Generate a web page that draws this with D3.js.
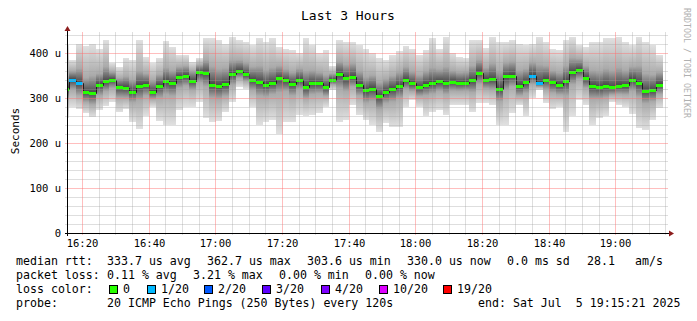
<!DOCTYPE html>
<html><head><meta charset="utf-8">
<script src="https://cdn.jsdelivr.net/npm/d3@7"></script>
<style>
html,body{margin:0;padding:0;background:#fff;}
svg{display:block;}
text{font-family:"DejaVu Sans Mono",monospace;fill:#000;}
</style></head><body>
<svg id="c" width="697" height="321"></svg>
<script>
// ---------------- data ----------------
const title = "Last 3 Hours";
const startTime = "2025-07-05 16:15:21";
const endTime   = "2025-07-05 19:15:21";
const firstStep = "2025-07-05 16:14:00";   // start of first 120 s step
const stepSeconds = 120;
const yTicks = [0, 100, 200, 300, 400];
const yTickLabels = ["0", "100 u", "200 u", "300 u", "400 u"];
const xTickLabels = ["16:20","16:40","17:00","17:20","17:40","18:00","18:20","18:40","19:00"];

// median rtt per 120 s step (microseconds)
const median = [321,341,333,313,311,330,338,341,324,323,314,327,330,314,327,337,334,347,350,338,
  358,356,330,327,332,354,361,353,341,336,330,334,344,340,332,340,324,333,333,324,
  341,353,344,347,329,318,321,304,314,321,327,341,333,324,330,334,337,334,336,334,
  334,339,356,341,342,321,348,350,327,335,350,334,341,336,330,338,357,363,344,327,
  324,327,324,327,328,341,333,316,318,330];
// fastest ping per step
const pingMin = [255,279,275,266,257,273,283,292,268,276,246,231,259,281,249,240,240,273,281,281,
  292,255,246,249,270,292,325,321,281,240,246,251,219,246,246,262,259,262,266,281,
  318,247,251,284,262,252,240,225,244,236,236,281,296,281,259,270,273,262,284,284,
  284,268,288,288,284,240,241,266,284,259,299,318,288,276,281,225,259,296,284,240,
  255,259,292,284,281,264,233,229,251,277];
// slowest ping per step
const pingMax = [418,385,419,416,421,410,429,377,370,388,384,428,392,377,388,427,414,396,396,379,
  390,433,433,429,421,436,429,425,418,434,424,433,414,410,407,399,433,418,401,407,
  372,429,425,425,418,410,399,388,384,396,404,416,410,396,407,433,410,436,399,392,
  388,429,429,412,436,424,425,429,421,418,421,436,425,410,407,429,436,418,414,425,
  425,433,433,436,424,418,436,425,418,396];
// lower / upper edge of the dense core of the smoke
const coreLo = [295,318,305,290,285,305,315,322,300,300,290,295,305,298,300,308,305,322,328,318,
  335,325,300,298,305,330,345,338,318,305,302,308,312,315,305,318,298,308,310,305,
  330,322,315,325,305,290,292,275,288,292,300,320,315,305,305,310,315,308,315,315,
  315,312,330,320,318,292,318,325,305,310,330,325,318,312,308,305,330,342,322,298,
  298,300,308,308,308,315,302,288,292,308];
const coreHi = [350,360,365,345,350,355,370,358,345,348,340,360,355,340,352,368,362,370,372,360,
  375,385,370,365,368,385,385,380,370,372,362,368,372,365,358,365,360,362,358,352,
  355,382,375,378,360,348,350,335,342,350,358,370,360,352,360,368,365,370,360,358,
  358,372,385,368,378,360,380,382,362,365,380,375,372,362,358,372,390,388,372,362,
  360,365,362,368,362,370,372,355,352,358];
// packet loss per step (%)
const lossPct = [0,3.21,2.5,0,0,0,0,0,0,0,0,0,0,0,0,0,0,0,0,0,
  0,0,0,0,0,0,0,0,0,0,0,0,0,0,0,0,0,0,0,0,
  0,0,0,0,0,0,0,0,0,0,0,0,0,0,0,0,0,0,0,0,
  0,0,0,0,0,0,0,0,0,0,2.5,1.8,0,0,0,0,0,0,0,0,
  0,0,0,0,0,0,0,0,0,0];

const lossLabels = ["0","1/20","2/20","3/20","4/20","10/20","19/20"];
const lossLimits = [0, 5, 10, 15, 20, 50, 95];
const lossColors = ["#26ff00","#00b8ff","#0059ff","#5e00ff","#7e00ff","#dd00ff","#ff0000"];

const legendRtt = [["median rtt:",16],["333.7 us avg",107],["362.7 us max",207],["303.6 us min",307],
  ["330.0 us now",407],["0.0 ms sd",507],["28.1",587],["am/s",635]];
const legendLoss = [["packet loss:",16],["0.11 % avg",107],["3.21 % max",193],["0.00 % min",279],["0.00 % now",365]];
const legendProbe = [["probe:",16],["20 ICMP Echo Pings (250 Bytes) every 120s",107],["end: Sat Jul  5 19:15:21 2025",478]];
const lossBoxX = [109,147,204,262,321,379,443];

// ---------------- drawing ----------------
const parse = d3.timeParse("%Y-%m-%d %H:%M:%S");
const t0 = parse(startTime), t1 = parse(endTime), s0 = parse(firstStep);
const svg = d3.select("#c");
const L = 67, R = 667, T = 32, B = 233;
const x = d3.scaleTime().domain([t0, t1]).range([L, R]);
const y = d3.scaleLinear().domain([0, 446.7]).range([B, T]);
const px = v => Math.round(v);
const gx = v => Math.floor(v);

const steps = median.map((m, i) => {
  const a = new Date(s0.getTime() + i * stepSeconds * 1000);
  const b = new Date(a.getTime() + stepSeconds * 1000);
  return {a, b, med: m, lo: pingMin[i], hi: pingMax[i], cl: coreLo[i], ch: coreHi[i], loss: lossPct[i]};
});

svg.append("rect").attr("width",697).attr("height",321).attr("fill","#fff");

const defs = svg.append("defs");
defs.append("clipPath").attr("id","plot").append("rect")
  .attr("x",L).attr("y",T).attr("width",R-L+1).attr("height",B-T);

// smoke
const plot = svg.append("g").attr("clip-path","url(#plot)");
steps.forEach((s, i) => {
  const yTop = y(s.hi), yBot = y(s.lo), h = yBot - yTop;
  const off = v => ((y(v) - yTop) / h * 100).toFixed(2) + "%";
  const g = defs.append("linearGradient").attr("id","sm"+i)
    .attr("x1",0).attr("y1",0).attr("x2",0).attr("y2",1);
  [[0,"#e0e0e0"],[off(s.ch),"#aaaaaa"],[off(s.med),"#474747"],[off(s.cl),"#aaaaaa"],["100%","#e0e0e0"]]
    .forEach(([o,c]) => g.append("stop").attr("offset",o).attr("stop-color",c));
});
plot.selectAll(".smoke").data(steps).join("rect")
  .attr("shape-rendering","crispEdges")
  .attr("x", d => px(x(d.a))).attr("width", d => px(x(d.b)) - px(x(d.a)))
  .attr("y", d => px(y(d.hi))).attr("height", d => px(y(d.lo)) - px(y(d.hi)))
  .attr("fill", (d, i) => `url(#sm${i})`);

// median step line
const line = d3.line().curve(d3.curveStepAfter).x(d => d[0]).y(d => d[1]);
const pts = steps.map(s => [px(x(s.a)) + 0.5, px(y(s.med)) + 0.5]);
pts.push([px(x(steps[steps.length-1].b)), px(y(median[median.length-1])) + 0.5]);
plot.append("path").attr("d", line(pts)).attr("fill","none").attr("stroke","#1e1e1e").attr("stroke-width",1);

function lossColor(p) {
  if (p <= 0) return lossColors[0];
  for (let k = 1; k < lossLimits.length; k++) if (p <= lossLimits[k]) return lossColors[k];
  return lossColors[lossColors.length - 1];
}
plot.selectAll(".med").data(steps).join("rect")
  .attr("shape-rendering","crispEdges")
  .attr("x", d => px(x(d.a))).attr("width", d => px(x(d.b)) - px(x(d.a)))
  .attr("y", d => px(y(d.med)) - 1).attr("height", 3)
  .attr("fill", d => lossColor(d.loss));

// grid (drawn over the data, semi transparent like rrdtool)
const tickMs = 5 * 60 * 1000;
const firstTick = Math.ceil(t0.getTime() / tickMs) * tickMs;
const gridT = d3.range(firstTick, t1.getTime(), tickMs).map(v => new Date(v));
const isMajor = d => d.getMinutes() % 20 === 0;
const grid = svg.append("g").attr("shape-rendering","crispEdges");
grid.selectAll(".vx").data(gridT.filter(d => !isMajor(d))).join("line")
  .attr("x1", d => gx(x(d)) + 0.5).attr("x2", d => gx(x(d)) + 0.5)
  .attr("y1", T).attr("y2", B + 2).attr("stroke", "rgba(160,160,160,0.35)");
const minorY = d3.range(20, 446, 20).filter(v => v % 100 !== 0);
grid.selectAll(".hy").data(minorY).join("line")
  .attr("x1", L - 2).attr("x2", R + 1)
  .attr("y1", d => px(y(d)) + 0.5).attr("y2", d => px(y(d)) + 0.5)
  .attr("stroke", "rgba(160,160,160,0.35)");
const majorX = gridT.filter(isMajor);
grid.selectAll(".mx").data(majorX).join("line")
  .attr("x1", d => gx(x(d)) + 0.5).attr("x2", d => gx(x(d)) + 0.5)
  .attr("y1", T).attr("y2", B + 2).attr("stroke", "rgba(255,110,110,0.45)");
grid.selectAll(".my").data([100,200,300,400]).join("line")
  .attr("x1", L - 2).attr("x2", R + 1)
  .attr("y1", d => px(y(d)) + 0.5).attr("y2", d => px(y(d)) + 0.5)
  .attr("stroke", "rgba(255,110,110,0.45)");

// axes
const ax = svg.append("g").attr("shape-rendering","crispEdges");
ax.append("line").attr("x1", L - 2).attr("x2", R + 3).attr("y1", B + 0.5).attr("y2", B + 0.5).attr("stroke","#000");
ax.append("line").attr("x1", L + 0.5).attr("x2", L + 0.5).attr("y1", B + 3).attr("y2", T - 2).attr("stroke","#000");
svg.append("path").attr("d", `M${R+2},${B-2.5} L${R+7},${B+0.5} L${R+2},${B+3.5} Z`).attr("fill","#8c1c1c");
svg.append("path").attr("d", `M${L-2.5},${T-1} L${L+0.5},${T-6} L${L+3.5},${T-1} Z`).attr("fill","#8c1c1c");

// tick labels
svg.append("g").selectAll("text").data(majorX).join("text")
  .attr("x", d => gx(x(d)) + 0.5).attr("y", 246.5).attr("text-anchor","middle")
  .attr("font-size", 10.5).text((d, i) => xTickLabels[i]);
svg.append("g").selectAll("text").data(yTicks).join("text")
  .attr("x", 61).attr("y", d => y(d) + 3.5).attr("text-anchor","end")
  .attr("font-size", 10.5).text((d, i) => yTickLabels[i]);

// titles
svg.append("text").attr("x", 348).attr("y", 20).attr("text-anchor","middle").attr("font-size", 13).text(title);
svg.append("text").attr("transform","translate(19,131) rotate(-90)").attr("text-anchor","middle")
  .attr("font-size", 11).text("Seconds");
svg.append("text").attr("transform","translate(684,8) rotate(90)").attr("text-anchor","start")
  .attr("font-size", 8.3).style("fill","#b0b0b0").text("RRDTOOL / TOBI OETIKER");

// legend
const leg = svg.append("g").attr("font-size", 11.6);
legendRtt.forEach(([t, p]) => leg.append("text").attr("x", p).attr("y", 264.5).attr("xml:space","preserve").text(t));
legendLoss.forEach(([t, p]) => leg.append("text").attr("x", p).attr("y", 278.5).attr("xml:space","preserve").text(t));
leg.append("text").attr("x", 16).attr("y", 292.5).text("loss color:");
lossLabels.forEach((lab, k) => {
  leg.append("rect").attr("x", lossBoxX[k] + 0.5).attr("y", 285.5).attr("width", 8).attr("height", 8)
    .attr("fill", lossColors[k]).attr("stroke", "#000");
  leg.append("text").attr("x", lossBoxX[k] + 14).attr("y", 292.5).text(lab);
});
legendProbe.forEach(([t, p]) => leg.append("text").attr("x", p).attr("y", 306.5).attr("xml:space","preserve").text(t));
</script></body></html>
